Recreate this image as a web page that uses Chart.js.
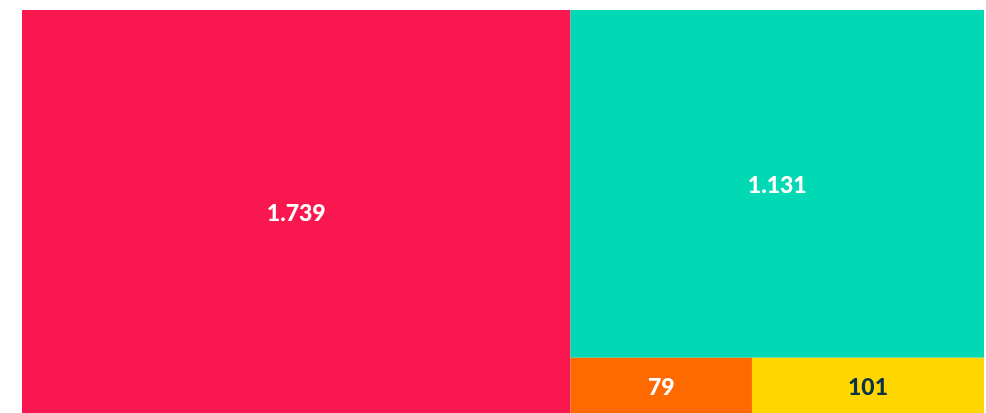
<!DOCTYPE html>
<html>
<head>
<meta charset="utf-8">
<script src="https://cdn.jsdelivr.net/npm/chart.js@4.4.1/dist/chart.umd.min.js"></script>
<style>
  html, body { margin: 0; padding: 0; background: #fff; }
  #wrap { width: 986px; height: 413px; }
</style>
</head>
<body>
<div id="wrap"><canvas id="tree"></canvas></div>
<script>
// data (order = layout order)
const categories = ['A', 'B', 'C', 'D'];
const values = [1739, 1131, 79, 101];
const tileColors = ['#f8174e', '#01d9b4', '#ff6a00', '#ffd600'];
const labelColors = ['#ffffff', '#ffffff', '#ffffff', '#0c3347'];

// alternating slice layout: each tile takes its share, rest goes on in the other direction
function sliceLayout(vals, x, y, w, h, depth) {
    if (!vals.length) return [];
    const total = vals.reduce((a, b) => a + b, 0);
    if (vals.length === 1) return [{x, y, w, h}];
    const share = vals[0] / total;
    if (depth % 2 === 0) {
        return [{x, y, w: w * share, h}].concat(sliceLayout(vals.slice(1), x + w * share, y, w * (1 - share), h, depth + 1));
    }
    return [{x, y, w, h: h * share}].concat(sliceLayout(vals.slice(1), x, y + h * share, w, h * (1 - share), depth + 1));
}

class TreemapController extends Chart.DatasetController {
    update(mode) {
        const meta = this._cachedMeta;
        this.updateElements(meta.data, 0, meta.data.length, mode);
    }
    updateElements(rects, start, count, mode) {
        const xScale = this._cachedMeta.xScale;
        const yScale = this._cachedMeta.yScale;
        const data = this.getDataset().data;
        // value space is 0..1 on both axes
        const boxes = sliceLayout(data, 0, 0, 1, 1, 0);
        for (let i = start; i < start + count; i++) {
            const b = boxes[i];
            const left = xScale.getPixelForValue(b.x);
            const right = xScale.getPixelForValue(b.x + b.w);
            const top = yScale.getPixelForValue(b.y);
            const bottom = yScale.getPixelForValue(b.y + b.h);
            this.updateElement(rects[i], i, {
                x: (left + right) / 2,
                y: top,
                base: bottom,
                width: right - left,
                height: bottom - top,
                horizontal: false,
                inflateAmount: 0,
                enableBorderRadius: false,
                borderSkipped: {top: false, left: false, bottom: false, right: false},
                options: this.resolveDataElementOptions(i, mode)
            }, mode);
        }
    }
}
TreemapController.id = 'treemap';
TreemapController.defaults = {datasetElementType: false, dataElementType: 'bar'};
Chart.register(TreemapController);

const tileLabels = {
    id: 'tileLabels',
    afterDatasetsDraw(chart) {
        const ctx = chart.ctx;
        const meta = chart.getDatasetMeta(0);
        ctx.save();
        ctx.font = '900 23px Lato';
        ctx.textAlign = 'center';
        ctx.textBaseline = 'middle';
        meta.data.forEach((el, i) => {
            const c = el.getCenterPoint();
            ctx.fillStyle = labelColors[i];
            ctx.fillText(values[i].toLocaleString('de-DE'), c.x, c.y + 2);
        });
        ctx.restore();
    }
};

new Chart(document.getElementById('tree'), {
    type: 'treemap',
    data: {
        labels: categories,
        datasets: [{
            data: values,
            backgroundColor: tileColors,
            borderWidth: 0
        }]
    },
    options: {
        responsive: true,
        maintainAspectRatio: false,
        animation: false,
        events: [],
        layout: { padding: { left: 22, top: 10, right: 2, bottom: 0 } },
        scales: {
            x: { type: 'linear', min: 0, max: 1, display: false },
            y: { type: 'linear', min: 0, max: 1, reverse: true, display: false }
        },
        plugins: {
            legend: { display: false },
            tooltip: { enabled: false }
        }
    },
    plugins: [tileLabels]
});
</script>
</body>
</html>
